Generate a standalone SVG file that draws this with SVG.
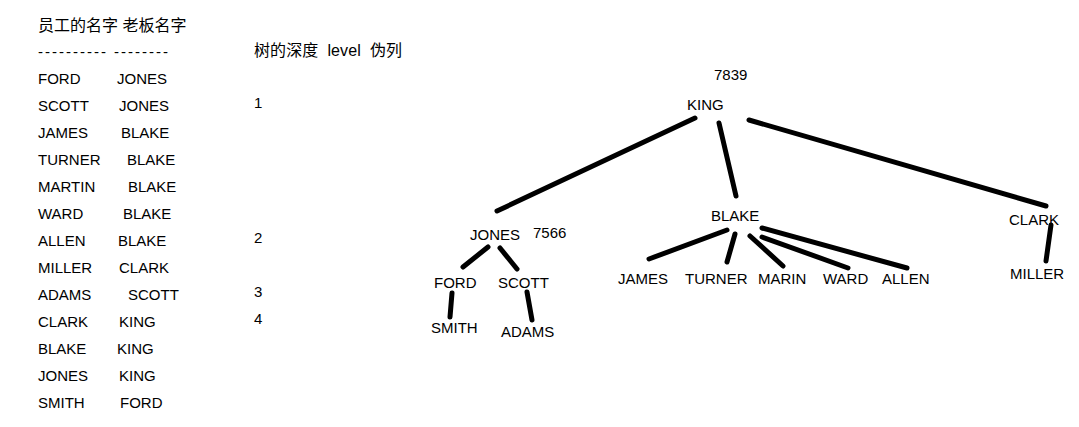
<svg xmlns="http://www.w3.org/2000/svg" width="1079" height="427" viewBox="0 0 1079 427">
<style>
text{font-family:"Liberation Sans","Noto Sans CJK SC",sans-serif;font-size:15px;fill:#000}
.cjk{font-size:16px}
.c line{stroke:#000;stroke-width:5;stroke-linecap:round}
</style>
<rect width="1079" height="427" fill="#fff"/>
<g id="table">
<text class="cjk" x="38" y="31">员工的名字 老板名字</text>
<text x="38" y="57" textLength="130" lengthAdjust="spacing">---------- --------</text>
<text x="38" y="84">FORD</text><text x="117" y="84">JONES</text>
<text x="38" y="111">SCOTT</text><text x="119" y="111">JONES</text>
<text x="38" y="138">JAMES</text><text x="121" y="138">BLAKE</text>
<text x="38" y="165">TURNER</text><text x="127" y="165">BLAKE</text>
<text x="38" y="192">MARTIN</text><text x="128" y="192">BLAKE</text>
<text x="38" y="219">WARD</text><text x="123" y="219">BLAKE</text>
<text x="38" y="246">ALLEN</text><text x="118" y="246">BLAKE</text>
<text x="38" y="273">MILLER</text><text x="119" y="273">CLARK</text>
<text x="38" y="300">ADAMS</text><text x="128" y="300">SCOTT</text>
<text x="38" y="327">CLARK</text><text x="119" y="327">KING</text>
<text x="38" y="354">BLAKE</text><text x="117" y="354">KING</text>
<text x="38" y="381">JONES</text><text x="119" y="381">KING</text>
<text x="38" y="408">SMITH</text><text x="120" y="408">FORD</text>
</g>
<g id="levels">
<text class="cjk" x="254" y="56" textLength="148" lengthAdjust="spacing" xml:space="preserve">树的深度  level  伪列</text>
<text x="254" y="108">1</text>
<text x="254" y="243">2</text>
<text x="254" y="297">3</text>
<text x="254" y="324">4</text>
</g>
<g class="c" id="connectors">
<line x1="695" y1="118" x2="497" y2="211"/>
<line x1="719" y1="123" x2="736" y2="196"/>
<line x1="749" y1="120" x2="1046" y2="206"/>
<line x1="488" y1="247" x2="463" y2="267"/>
<line x1="500" y1="248" x2="517" y2="269"/>
<line x1="452" y1="293" x2="450" y2="317"/>
<line x1="527" y1="292" x2="532" y2="320"/>
<line x1="727" y1="230" x2="649" y2="259"/>
<line x1="735" y1="234" x2="727" y2="262"/>
<line x1="750" y1="236" x2="783" y2="266"/>
<line x1="762" y1="237" x2="848" y2="268"/>
<line x1="762" y1="228" x2="907" y2="268"/>
<line x1="1051" y1="225" x2="1046" y2="261"/>
</g>
<g id="n-king"><text x="714" y="80">7839</text><text x="687" y="110">KING</text></g>
<g id="n-jones"><text x="470" y="240">JONES</text><text x="533" y="238">7566</text></g>
<g id="n-blake"><text x="711" y="221">BLAKE</text></g>
<g id="n-clark"><text x="1009" y="225">CLARK</text></g>
<g id="n-ford"><text x="434" y="288">FORD</text></g>
<g id="n-scott"><text x="498" y="288">SCOTT</text></g>
<g id="n-smith"><text x="431" y="333">SMITH</text></g>
<g id="n-adams"><text x="501" y="337">ADAMS</text></g>
<g id="n-james"><text x="618" y="284">JAMES</text></g>
<g id="n-turner"><text x="685" y="284">TURNER</text></g>
<g id="n-marin"><text x="758" y="284">MARIN</text></g>
<g id="n-ward"><text x="823" y="284">WARD</text></g>
<g id="n-allen"><text x="882" y="284">ALLEN</text></g>
<g id="n-miller"><text x="1010" y="279">MILLER</text></g>
</svg>
